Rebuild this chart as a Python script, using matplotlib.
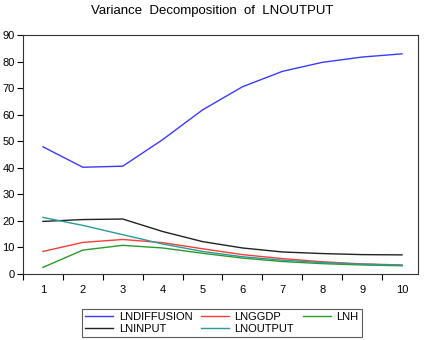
import matplotlib
matplotlib.use("Agg")
import matplotlib.pyplot as plt

periods = list(range(1, 11))
lndiffusion = [47.9, 40.2, 40.6, 50.6, 61.8, 70.5, 76.3, 79.7, 81.7, 82.9]
lnggdp      = [8.5, 11.9, 13.0, 11.8, 9.5, 7.3, 5.8, 4.6, 3.8, 3.4]
lnh         = [2.5, 9.0, 10.8, 9.8, 7.8, 6.0, 4.7, 3.9, 3.4, 3.1]
lninput     = [19.8, 20.5, 20.7, 16.0, 12.2, 9.8, 8.3, 7.7, 7.3, 7.2]
lnoutput    = [21.3, 18.3, 14.8, 11.3, 8.5, 6.5, 5.2, 4.3, 3.7, 3.3]

series = [
    ("LNDIFFUSION", lndiffusion, "#3a3aff"),
    ("LNGGDP", lnggdp, "#ff3a3a"),
    ("LNH", lnh, "#2a9a2a"),
    ("LNINPUT", lninput, "#222222"),
    ("LNOUTPUT", lnoutput, "#2a9a9a"),
]

plt.rcParams["font.family"] = ["Liberation Sans", "DejaVu Sans"]
fig = plt.figure(figsize=(4.25, 3.4), dpi=100)
ax = fig.add_axes([23 / 425, 1 - 274 / 340, (418 - 23) / 425, (274 - 35) / 340])

lines = {}
for name, vals, col in series:
    lines[name], = ax.plot(periods, vals, color=col, lw=1.0, label=name)

ax.set_xlim(0.5, 10.4)
ax.set_ylim(0, 90)
ax.set_yticks(range(0, 91, 10))
ax.set_xticks(periods)
ax.set_xticks([p + 0.5 for p in range(0, 10)], minor=True)
ax.tick_params(axis="x", which="major", length=0, pad=8, labelsize=8)
ax.tick_params(axis="x", which="minor", length=4, direction="out", width=0.8)
ax.tick_params(axis="y", length=4, direction="out", labelsize=8, pad=2, width=0.8)
for s in ax.spines.values():
    s.set_linewidth(0.8)
    s.set_color("#333333")

fig.text(0.5, 1 - 11 / 340, "Variance  Decomposition  of  LNOUTPUT", ha="center", va="center",
         fontsize=9.5)

# matplotlib fills legend column by column; reorder so rows read like the original
order = ["LNDIFFUSION", "LNINPUT", "LNGGDP", "LNOUTPUT", "LNH"]
leg = fig.legend([lines[n] for n in order], order, loc="center",
                 bbox_to_anchor=(222 / 425, 1 - 323 / 340), ncol=3,
                 fontsize=8, frameon=True, fancybox=False, edgecolor="#333333",
                 handlelength=2.5, handletextpad=0.5, columnspacing=0.8,
                 borderpad=0.3, labelspacing=0.15)
leg.get_frame().set_linewidth(0.8)

fig.savefig("out.png", dpi=100)
